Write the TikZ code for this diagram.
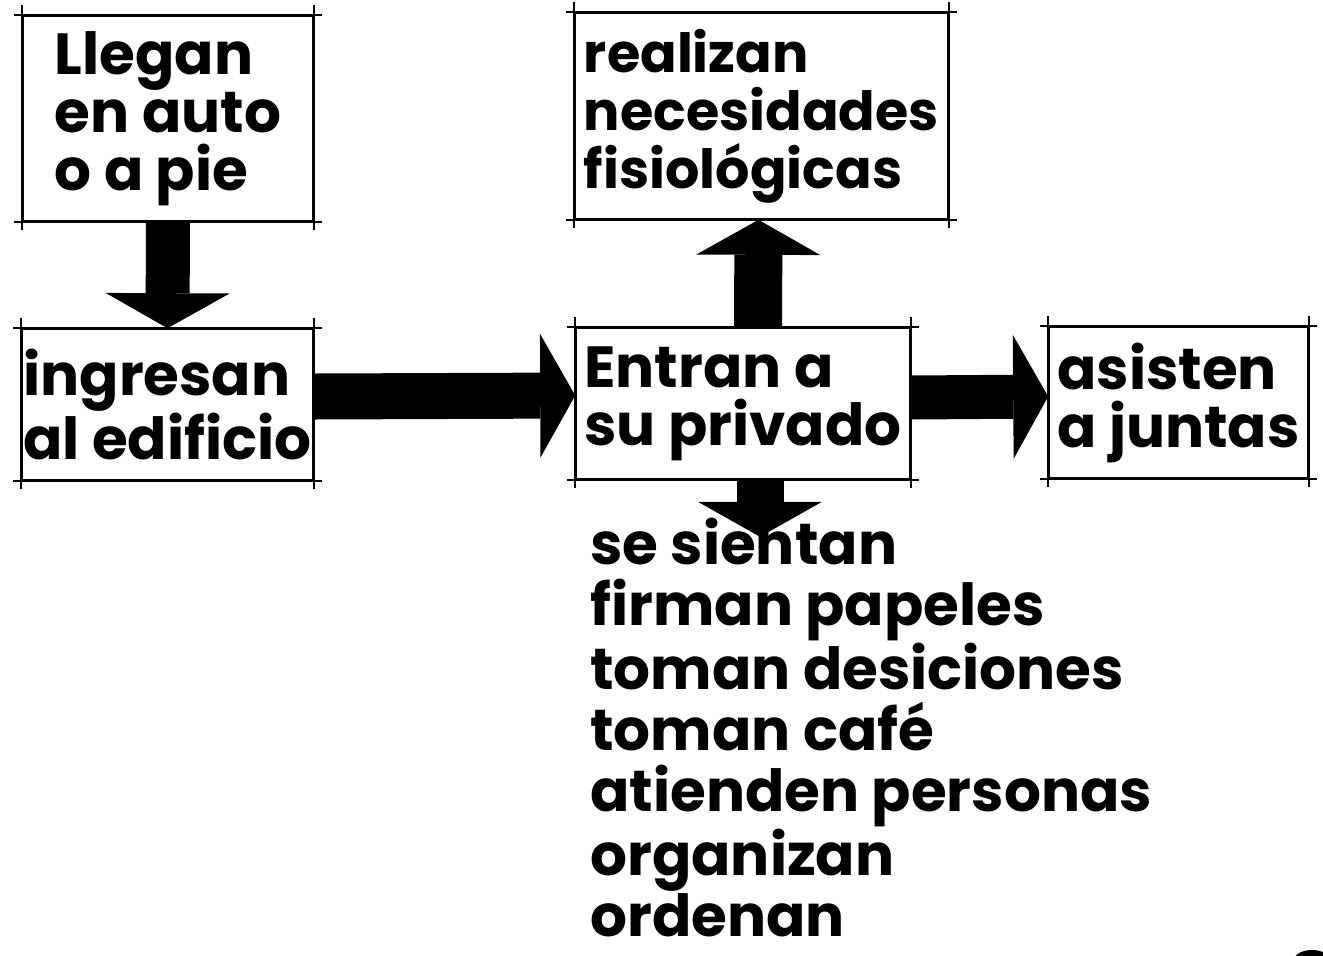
\documentclass[tikz,border=0pt]{standalone}
\usepackage{fontspec}
\setmainfont{Poppins}
\usetikzlibrary{arrows.meta,calc}

% brush-like lettering
\newcommand\handfont{\fontsize{29}{29}\selectfont\bfseries}
\newcommand\smallhandfont{\fontsize{27}{29}\selectfont\bfseries}
\newcommand\listfont{\fontsize{29}{30.5}\selectfont\bfseries}

\tikzset{
  box/.style={draw=black, line width=0.8pt, inner sep=0pt, align=left, font=\handfont},
  overrun/.style={line width=0.8pt},
  blockarrow/.style={line width=#1, line cap=butt,
    -{Triangle[length=17.5pt 0, width=62pt 0, line width=0pt]}},
  blockarrow/.default=23pt
}

% rectangle whose edges run a little past the corners, as in a sketch
\newcommand\sketchedges[1]{%
  \draw[overrun] ([xshift=-4pt]#1.north west) -- ([xshift=4pt]#1.north east);
  \draw[overrun] ([xshift=-4pt]#1.south west) -- ([xshift=4pt]#1.south east);
  \draw[overrun] ([yshift=5pt]#1.north west) -- ([yshift=-4pt]#1.south west);
  \draw[overrun] ([yshift=5pt]#1.north east) -- ([yshift=-4pt]#1.south east);
}

\begin{document}
\begin{tikzpicture}[x=0.5pt, y=-0.5pt]
  \useasboundingbox[fill=white] (0,0) rectangle (1323,955);

  % activity boxes
  \node[box, minimum width=145pt, minimum height=102.5pt] (b1) at (168,118.5)
    {Llegan\\en auto\\o a pie};
  \node[box, minimum width=145.5pt, minimum height=75.5pt] (b2) at (167.5,404.5)
    {ingresan\\al edificio};
  \node[box, minimum width=167pt, minimum height=75.5pt] (b3) at (743,403.5)
    {Entran a\\su privado};
  \node[box, font=\smallhandfont, minimum width=186.5pt, minimum height=103pt] (b4) at (761.5,116)
    {realizan\\necesidades\\fisiológicas};
  \node[box, minimum width=129.5pt, minimum height=75.5pt] (b5) at (1178.5,402.5)
    {asisten\\a juntas};

  \foreach \b in {b1,b2,b3,b4,b5} {\sketchedges{\b}}

  % list of activities inside the office
  \node[anchor=north west, inner sep=0pt, align=left, font=\listfont] (acts) at (590,518)
    {se sientan\\firman papeles\\toman desiciones\\toman café\\atienden personas\\organizan\\ordenan};
  \coordinate (actstop) at ($(b3.south)+(17,57)$);

  % flow arrows
  \draw[blockarrow=22pt] (b1.south) -- (b2.north);
  \draw[blockarrow] ([yshift=4pt]b2.east) -- ([yshift=4pt]b3.west);
  \draw[blockarrow=22pt] ([yshift=3pt]b3.east) -- ([yshift=3pt]b5.west);
  \draw[blockarrow=24pt] ($(b3.north)+(15,0)$) -- ($(b4.south)+(-3,0)$);
  \draw[blockarrow=23.5pt] ($(b3.south)+(17,0)$) -- (actstop);

  % ink mark at the lower right corner
  \fill (1312,960) ellipse [x radius=18, y radius=10];
\end{tikzpicture}
\end{document}
